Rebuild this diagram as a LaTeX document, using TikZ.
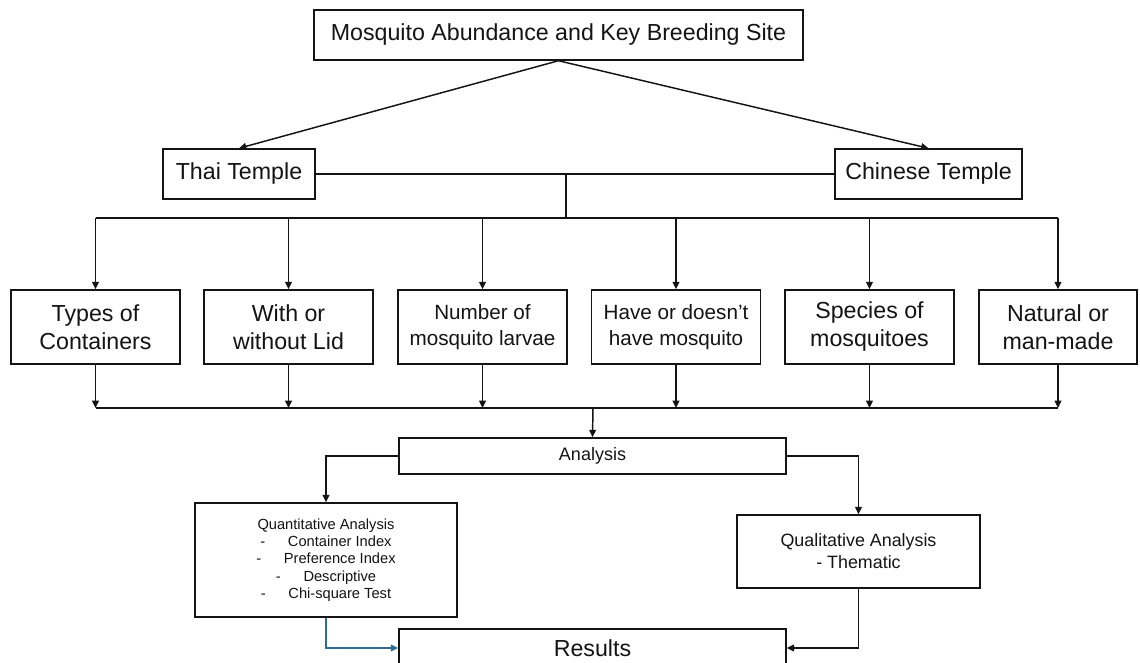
\documentclass[tikz,border=0pt]{standalone}
\usepackage{fontspec}
\setmainfont{Liberation Sans}
\usepackage{xcolor}
\usepackage{tikz}
\usetikzlibrary{
    arrows.meta,
    calc,
    positioning
}
\definecolor{linkblue}{RGB}{46,110,150}
\definecolor{inkblack}{RGB}{20,20,20}

\begin{document}
\begin{tikzpicture}[
    x=0.75pt, y=-0.75pt,
    every node/.style={font=\fontsize{17.4}{21}\selectfont, text=inkblack},
    box/.style={
        draw=inkblack,
        line width=1.1pt,
        fill=white,
        inner sep=2pt,
        align=center
    },
    factor/.style={
        box,
        minimum width=126.75pt,
        minimum height=55.5pt
    },
    link/.style={
        -{Triangle[length=5.5pt, width=5pt]},
        line width=1.1pt,
        draw=#1
    },
    link/.default=inkblack,
    wire/.style={
        line width=1.1pt,
        draw=inkblack
    }
]

    \useasboundingbox (0,0) rectangle (1140,663);

    % Title and the two temples
    \node[box, minimum width=366.75pt, minimum height=37.5pt] (top) at (558.5,35)
        {Mosquito Abundance and Key Breeding Site};
    \node[box, minimum width=114pt, minimum height=37.5pt] (thai) at (239,174)
        {Thai Temple};
    \node[box, minimum width=140.25pt, minimum height=37.5pt] (chinese) at (928.5,174)
        {Chinese Temple};

    % Survey factors
    \node[factor] (types) at (95.5,327) {Types of\\Containers};
    \node[factor] (lid) at (288.5,327) {With or\\without Lid};
    \node[factor, font=\fontsize{15.5}{19.5}\selectfont] (larvae) at (482.5,327)
        {Number of\\mosquito larvae};
    \node[factor, font=\fontsize{15.5}{19.5}\selectfont] (presence) at (676,327)
        {Have or doesn't\\have mosquito};
    \node[factor] (species) at (869.5,327) {Species of\\mosquitoes};
    \node[factor, minimum width=118.5pt] (origin) at (1058,327) {Natural or\\man-made};

    % Analysis stage
    \node[box, minimum width=290.25pt, minimum height=27pt,
          font=\fontsize{13.5}{16}\selectfont] (analysis) at (592.5,456) {Analysis};
    \node[box, minimum width=196.5pt, minimum height=85.5pt,
          font=\fontsize{11}{13}\selectfont] (quant) at (326,560) {
        Quantitative Analysis\\
        -\hspace{17pt}Container Index\\
        -\hspace{17pt}Preference Index\\
        -\hspace{17pt}Descriptive\\
        -\hspace{17pt}Chi-square Test
    };
    \node[box, minimum width=182.25pt, minimum height=54.75pt,
          font=\fontsize{13.4}{16.5}\selectfont] (qual) at (858.5,551.5)
        {Qualitative Analysis\\- Thematic};
    \node[box, minimum width=290.25pt, minimum height=28.5pt] (results) at (592.5,648)
        {Results};

    % Junction points
    \coordinate (hub) at (566,174);
    \coordinate (bus) at (566,218);
    \coordinate (merge) at (593,408);

    % Title to temples
    \draw[link] (top.south) -- (thai.north);
    \draw[link] (top.south) -- (chinese.north);
    \draw[wire] (thai.east) -- (chinese.west);
    \draw[wire] (hub) -- (bus);

    % Temples to factors
    \draw[wire] (bus -| types) -- (bus -| origin);
    \draw[link] (bus -| types) -- (types.north);
    \draw[link] (bus -| lid) -- (lid.north);
    \draw[link] (bus -| larvae) -- (larvae.north);
    \draw[link] (bus -| presence) -- (presence.north);
    \draw[link] (bus -| species) -- (species.north);
    \draw[link] (bus -| origin) -- (origin.north);

    % Factors to analysis
    \draw[link] (types.south) -- (merge -| types);
    \draw[link] (lid.south) -- (merge -| lid);
    \draw[link] (larvae.south) -- (merge -| larvae);
    \draw[link] (presence.south) -- (merge -| presence);
    \draw[link] (species.south) -- (merge -| species);
    \draw[link] (origin.south) -- (merge -| origin);
    \draw[wire] (merge -| types) -- (merge -| origin);
    \draw[link] (merge) -- (analysis.north);

    % Analysis branches and results
    \draw[link] (analysis.west) -| (quant.north);
    \draw[link] (analysis.east) -| (qual.north);
    \draw[link=linkblue] (quant.south) |- (results.west);
    \draw[link] (qual.south) |- (results.east);

\end{tikzpicture}
\end{document}
